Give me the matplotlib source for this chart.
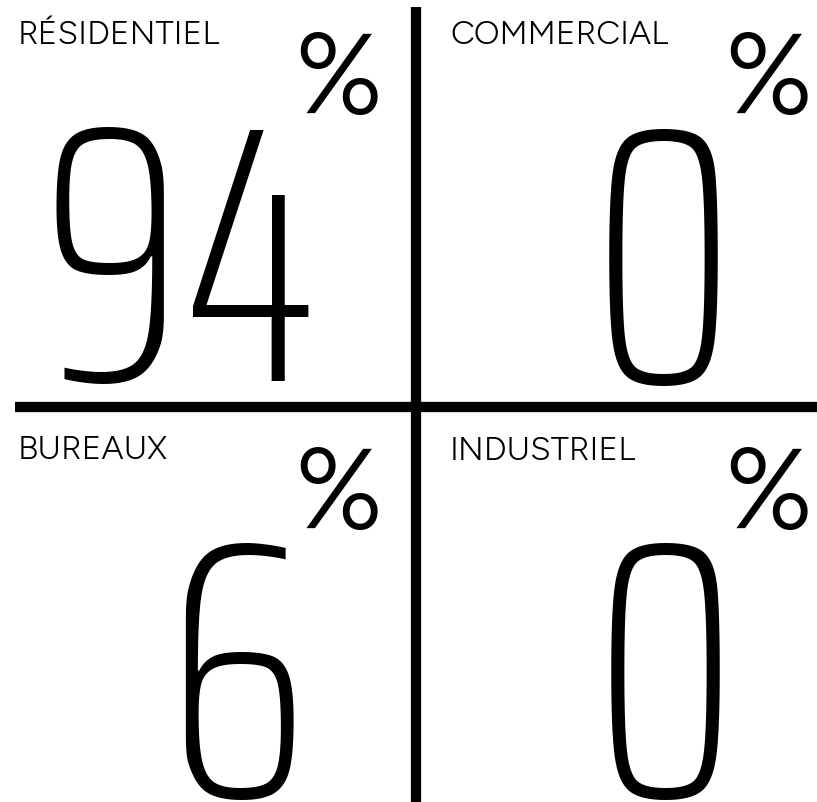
import matplotlib
matplotlib.use("Agg")
import matplotlib.pyplot as plt

categories = ["RÉSIDENTIEL", "COMMERCIAL", "BUREAUX", "INDUSTRIEL"]
values = [94, 0, 6, 0]

W, H = 817, 803
# quadrant anchors, in pixels from the top-left corner
label_xy = [(18, 44), (450, 44), (18, 459), (450, 460)]
number_xy = [(182, 381), (663, 383), (237, 797), (665, 797)]
pct_xy = [(338, 113), (768, 113), (338, 528), (768, 528)]

NUM_FONT = "Saira ExtraCondensed"
LABEL_FONT = "Figtree"


def main():
    fig = plt.figure(figsize=(W / 100, H / 100), dpi=100)
    ax = fig.add_axes([0, 0, 1, 1])
    ax.set_xlim(0, W)
    ax.set_ylim(H, 0)
    ax.axis("off")

    ax.plot([416, 416], [8, H], color="black", lw=7.4, solid_capstyle="butt")
    ax.plot([15, W], [408, 408], color="black", lw=7.4, solid_capstyle="butt")

    for cat, val, (lx, ly), (nx, ny), (px, py) in zip(categories, values, label_xy, number_xy, pct_xy):
        ax.text(lx, ly, cat, family=LABEL_FONT, weight=500, fontsize=24, ha="left", va="baseline")
        ax.text(nx, ny, f"{val}", family=NUM_FONT, weight=250, fontsize=262,
                ha="center", va="baseline")
        ax.text(px, py, "%", family=LABEL_FONT, weight=500, fontsize=82, ha="center", va="baseline")

    fig.savefig("out.png", dpi=100)


if __name__ == "__main__":
    main()
